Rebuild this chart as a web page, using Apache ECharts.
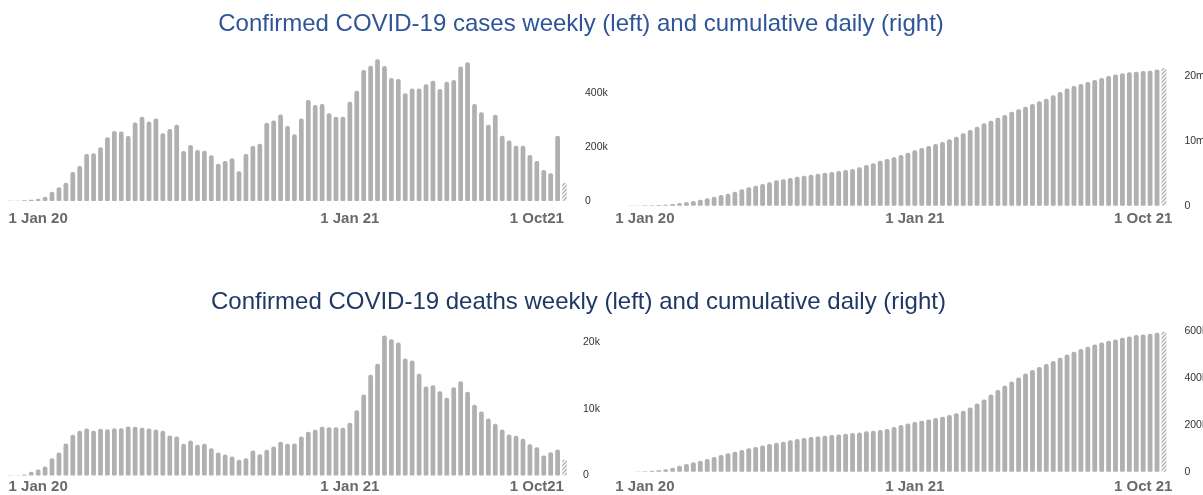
<!DOCTYPE html>
<html><head><meta charset="utf-8">
<script src="https://cdn.jsdelivr.net/npm/echarts@6/dist/echarts.min.js"></script>
<style>html,body{margin:0;padding:0;background:#fff;}#c{width:1203px;height:495px;}</style>
</head><body><div id="c"></div><script>
// weekly confirmed cases (thousands)
const casesWeekly = [0.5,1.2,2.5,5,8.6,16,34.6,50.6,67.9,107,130,174,177,199,236,259,257,241,291,312,294,306,251,267,282,185,207,189,186,169,138,148,158,110,174,204,212,290,298,320,278,247,306,374,356,359,325,312,312,368,408,485,501,525,500,456,452,399,417,417,432,445,415,442,448,498,514,359,329,282,319,242,224,205,205,170,148,115,103,242,68];
// cumulative confirmed cases (millions)
const casesCumulative = [0,0.01,0.02,0.04,0.06,0.08,0.12,0.15,0.26,0.41,0.57,0.72,0.93,1.13,1.39,1.65,1.85,2.16,2.52,2.83,3.08,3.34,3.60,3.91,4.06,4.27,4.47,4.63,4.78,4.94,5.09,5.19,5.35,5.50,5.66,5.91,6.27,6.53,6.94,7.20,7.46,7.81,8.17,8.53,8.89,9.20,9.51,9.82,10.23,10.64,11.16,11.67,12.19,12.70,13.11,13.57,13.98,14.50,14.86,15.27,15.68,16.09,16.50,17.02,17.53,18.05,18.46,18.77,19.07,19.38,19.69,20.0,20.21,20.41,20.57,20.67,20.77,20.82,20.98,21.18];
// weekly confirmed deaths (thousands)
const deathsWeekly = [0.02,0.05,0.15,0.55,0.9,1.35,2.6,3.45,4.8,6.1,6.7,7.05,6.7,7.0,6.95,7.1,7.1,7.35,7.3,7.15,7.05,6.9,6.7,6.0,5.85,4.75,5.25,4.6,4.75,4.1,3.45,3.15,2.85,2.35,2.6,3.75,3.2,3.85,4.35,5.05,4.75,4.8,5.85,6.55,6.85,7.3,7.25,7.25,7.15,7.9,9.8,12.15,15.1,16.75,21.0,20.45,19.95,17.55,17.25,15.25,13.35,13.55,12.65,11.65,13.25,14.15,12.55,10.6,9.6,8.55,7.75,6.9,6.15,5.95,5.5,4.7,4.25,3.0,3.5,3.9,2.35];
// cumulative confirmed deaths (thousands)
const deathsCumulative = [0,0,0.1,0.5,1.5,4.3,5.7,9.9,17,25.5,32.6,39.7,46.8,53.9,62.4,70.9,78,85.1,92.2,99.3,104.9,112,117.7,123.4,127.6,133.3,139,143.2,147.5,150.3,153.1,156,158.8,161.7,164.5,167.3,171.6,174.4,177.3,181.5,190,198.5,205.6,211.3,217,222.6,228.3,234,241,248.2,259.5,273.7,290.7,307.7,329,347.4,367.3,384.3,401.3,418.3,432.5,445.3,458,470.8,485,499.1,510.5,521.8,531.8,541.7,550.2,557.3,563,570,575.7,581.4,584.2,587,591.3,595.6];

const leftTickIdx = [4, 49, 76];
const leftTickText = ['1 Jan 20', '1 Jan 21', '1 Oct21'];
const rightTickIdx = [4, 43, 76];
const rightTickText = ['1 Jan 20', '1 Jan 21', '1 Oct 21'];

const titles = ['Confirmed COVID-19 cases weekly (left) and cumulative daily (right)',
                'Confirmed COVID-19 deaths weekly (left) and cumulative daily (right)'];

function hatch(){
  const c = document.createElement('canvas'); c.width = 4; c.height = 4;
  const g = c.getContext('2d');
  g.fillStyle = '#f4f4f4'; g.fillRect(0,0,4,4);
  g.strokeStyle = '#a8a8a8'; g.lineWidth = 1.1;
  g.beginPath();
  g.moveTo(-1,5); g.lineTo(5,-1);
  g.moveTo(-1,1); g.lineTo(1,-1);
  g.moveTo(3,5); g.lineTo(5,3);
  g.stroke();
  return c;
}
const hatchImg = hatch();
const BAR = '#b0b0b0';
const FONT = 'Liberation Sans';

function buildData(arr){
  return arr.map((v,i)=> i === arr.length-1
    ? {value: v, itemStyle: {color: {image: hatchImg, repeat: 'repeat'}}}
    : v);
}
function cats(arr){ return arr.map((_,i)=>String(i)); }

function xAx(gi, arr, idxs, texts, margin){
  return {type:'category', gridIndex: gi, data: cats(arr), boundaryGap: true,
    axisLine:{show:false}, axisTick:{show:false}, splitLine:{show:false},
    axisLabel:{interval:(i)=>idxs.indexOf(i)>=0,
      formatter:(v,i)=>{const k=idxs.indexOf(i); return k>=0?texts[k]:'';},
      fontFamily: FONT, fontSize: 15, fontWeight:'bold', color:'#6a6a6a', margin: margin}};
}
function yAx(gi, max, interval, unit, margin){
  return {type:'value', gridIndex: gi, position:'right', min:0, max:max, interval:interval,
    axisLine:{show:false}, axisTick:{show:false}, splitLine:{show:false},
    axisLabel:{margin: margin, fontFamily: FONT, fontSize: 10.5, color:'#333',
      formatter:(v)=> (Math.abs(v % interval) > 1e-9) ? '' : (v===0 ? '0' : v + unit)}};
}
function ser(gi, arr, gap){
  return {type:'bar', xAxisIndex: gi, yAxisIndex: gi, data: buildData(arr),
    barCategoryGap: gap, itemStyle:{color: BAR, borderRadius:[2,2,1,1]},
    silent:true, animation:false};
}
function grid(l, w, t, h){
  return {left:l, width:w, top:t, height:h, containLabel:false, outerBoundsMode:'none'};
}

const chart = echarts.init(document.getElementById('c'), null, {renderer:'canvas'});
chart.setOption({
  animation:false,
  backgroundColor:'#fff',
  title:[
    {text: titles[0], left: 581, top: 12, textAlign:'center', padding:0,
     textStyle:{fontFamily: FONT, fontSize:24, fontWeight:'normal', color:'#2F5597'}},
    {text: titles[1], left: 578.5, top: 290, textAlign:'center', padding:0,
     textStyle:{fontFamily: FONT, fontSize:24, fontWeight:'normal', color:'#1F3864'}}
  ],
  grid:[
    grid(7, 561, 55.2, 145.8),
    grid(613.8, 553.6, 63, 142.7),
    grid(7, 561, 328.8, 146.7),
    grid(613.8, 553.6, 326, 145.7)
  ],
  xAxis:[
    xAx(0, casesWeekly, leftTickIdx, leftTickText, 10.5),
    xAx(1, casesCumulative, rightTickIdx, rightTickText, 5.8),
    xAx(2, deathsWeekly, leftTickIdx, leftTickText, 3.5),
    xAx(3, deathsCumulative, rightTickIdx, rightTickText, 7.5)
  ],
  yAxis:[
    yAx(0, 540, 200, 'k', 17),
    yAx(1, 22, 10, 'm', 17),
    yAx(2, 22, 10, 'k', 15),
    yAx(3, 620, 200, 'k', 17)
  ],
  series:[
    ser(0, casesWeekly, '32%'),
    ser(1, casesCumulative, '30%'),
    ser(2, deathsWeekly, '32%'),
    ser(3, deathsCumulative, '30%')
  ]
});
</script></body></html>
